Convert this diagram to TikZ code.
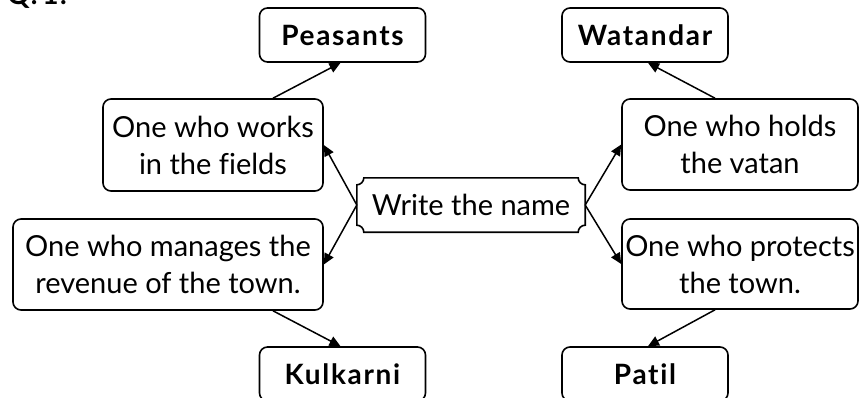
\documentclass[tikz,border=0pt]{standalone}
\usepackage{fontspec}
\setmainfont[Ligatures=NoCommon]{Lato}
\newfontfamily\lblfont[LetterSpace=6,Ligatures=NoCommon]{Lato}
\usetikzlibrary{arrows.meta,calc}
\tikzset{
  x=1pt,y=-1pt,
  box/.style={draw, line width=1.6pt, rounded corners=8pt, align=center, inner sep=0pt, font=\fontsize{29}{37}\selectfont},
  namebox/.style={draw, line width=1.6pt, rounded corners=8pt, inner sep=0pt, minimum width=166pt, minimum height=54pt, font=\lblfont\fontsize{28}{32}\selectfont\bfseries},
  conn/.style={line width=1.5pt, -{Triangle[length=11pt,width=10pt]}},
}
\begin{document}
\begin{tikzpicture}
\useasboundingbox (0,0) rectangle (859,397);
% title (cut off at top)
\node[anchor=base west, inner sep=0pt, font=\lblfont\fontsize{28}{32}\selectfont\bfseries] (q) at (7,4) {Q.\,1.};
% name boxes
\node[namebox] (p) at (342.5,35) {Peasants};
\node[namebox] (wd) at (645,35) {Watandar};
\node[namebox] (k) at (342.5,374) {Kulkarni};
\node[namebox] (pt) at (645,374) {Patil};
% description boxes
\node[box, minimum width=220pt, minimum height=92pt] (w) at (213,145) {One who works\\in the fields};
\node[box, minimum width=310pt, minimum height=91pt] (m) at (168,264.5) {One who manages the\\revenue of the town.};
\node[box, minimum width=236pt, minimum height=91pt] (h) at (740,144.5) {One who holds\\the vatan};
\node[box, minimum width=236pt, minimum height=90pt] (pr) at (740,264) {One who protects\\the town.};
% centre
\node[inner sep=0pt, minimum width=228pt, minimum height=54pt, font=\fontsize{29}{37}\selectfont] (c) at (471,205) {Write the name};
\draw[line width=1.6pt]
  ($(c.north west)+(7,0)$) -- ($(c.north east)+(-7,0)$)
  .. controls ($(c.north east)+(-7,3.9)$) and ($(c.north east)+(-3.9,7)$) .. ($(c.north east)+(0,7)$)
  -- ($(c.south east)+(0,-7)$)
  .. controls ($(c.south east)+(-3.9,-7)$) and ($(c.south east)+(-7,-3.9)$) .. ($(c.south east)+(-7,0)$)
  -- ($(c.south west)+(7,0)$)
  .. controls ($(c.south west)+(7,-3.9)$) and ($(c.south west)+(3.9,-7)$) .. ($(c.south west)+(0,-7)$)
  -- ($(c.north west)+(0,7)$)
  .. controls ($(c.north west)+(3.9,7)$) and ($(c.north west)+(7,3.9)$) .. ($(c.north west)+(7,0)$)
  -- cycle;
% connectors
\draw[conn] (c.west) -- (w.east);
\draw[conn] (c.west) -- (m.east);
\draw[conn] (c.east) -- (h.west);
\draw[conn] (c.east) -- (pr.west);
\draw[conn] ([xshift=60pt]w.north) -- ([xshift=-2pt]p.south);
\draw[conn] ([xshift=105pt]m.south) -- ([xshift=-2pt]k.north);
\draw[conn] ([xshift=-25pt]h.north) -- ([xshift=3pt]wd.south);
\draw[conn] ([xshift=-25pt]pr.south) -- ([xshift=3pt]pt.north);
\end{tikzpicture}
\end{document}
